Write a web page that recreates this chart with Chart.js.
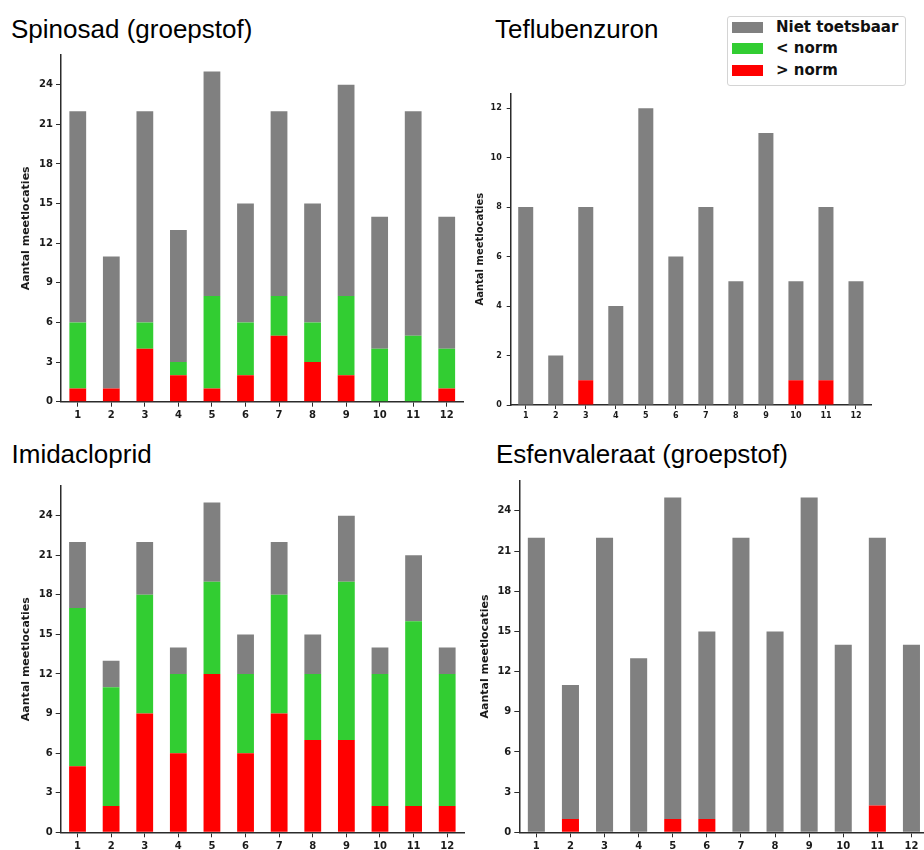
<!DOCTYPE html>
<html>
<head>
<meta charset="utf-8">
<script src="https://cdn.jsdelivr.net/npm/chart.js@4/dist/chart.umd.min.js"></script>
<style>
  html, body { margin: 0; padding: 0; background: #fff; }
  body { width: 924px; height: 850px; position: relative; overflow: hidden; }
  canvas { position: absolute; }
  .title {
    position: absolute; font-family: "Liberation Sans", Arial, sans-serif;
    font-size: 26px; line-height: 26px; color: #000; white-space: nowrap;
  }
  #legend {
    position: absolute; left: 727px; top: 16px; width: 177px; height: 68px;
    border: 1px solid #d4d4d4; border-radius: 3px; background: #fff;
  }
  .item { position: absolute; left: 4px; height: 11px; }
  .swatch { position: absolute; left: 0; top: 0; width: 31px; height: 11px; }
  .lab {
    position: absolute; left: 44px; top: -6px; white-space: nowrap;
    font-family: "DejaVu Sans", sans-serif; font-weight: bold; font-size: 15px;
    line-height: 22px; color: #111;
  }
</style>
</head>
<body>
<div class="title" style="left:11px; top:15.5px;">Spinosad (groepstof)</div>
<div class="title" style="left:495px; top:15.5px;">Teflubenzuron</div>
<div class="title" style="left:11.5px; top:441px;">Imidacloprid</div>
<div class="title" style="left:496px; top:441px;">Esfenvaleraat (groepstof)</div>
<div id="legend"></div>

<canvas id="c1" width="470" height="380" style="left:0px; top:50px;"></canvas>
<canvas id="c2" width="454" height="342" style="left:470px; top:88px;"></canvas>
<canvas id="c3" width="470" height="370" style="left:0px; top:480px;"></canvas>
<canvas id="c4" width="470" height="375" style="left:470px; top:475px;"></canvas>

<script>
// Meetperiodes 1..12
const periods = ['1', '2', '3', '4', '5', '6', '7', '8', '9', '10', '11', '12'];

const seriesNames = ['Niet toetsbaar', '< norm', '> norm'];
const seriesColors = ['#808080', '#32cd32', '#ff0000'];
const yAxisTitle = 'Aantal meetlocaties';

// Spinosad (groepstof)
const spinosadAbove = [1, 1, 4, 2, 1, 2, 5, 3, 2, 0, 0, 1];
const spinosadBelow = [5, 0, 2, 1, 7, 4, 3, 3, 6, 4, 5, 3];
const spinosadNiet  = [16, 10, 16, 10, 17, 9, 14, 9, 16, 10, 17, 10];

// Teflubenzuron
const teflubenzuronAbove = [0, 0, 1, 0, 0, 0, 0, 0, 0, 1, 1, 0];
const teflubenzuronBelow = [0, 0, 0, 0, 0, 0, 0, 0, 0, 0, 0, 0];
const teflubenzuronNiet  = [8, 2, 7, 4, 12, 6, 8, 5, 11, 4, 7, 5];

// Imidacloprid
const imidaclopridAbove = [5, 2, 9, 6, 12, 6, 9, 7, 7, 2, 2, 2];
const imidaclopridBelow = [12, 9, 9, 6, 7, 6, 9, 5, 12, 10, 14, 10];
const imidaclopridNiet  = [5, 2, 4, 2, 6, 3, 4, 3, 5, 2, 5, 2];

// Esfenvaleraat (groepstof)
const esfenvaleraatAbove = [0, 1, 0, 0, 1, 1, 0, 0, 0, 0, 2, 0];
const esfenvaleraatBelow = [0, 0, 0, 0, 0, 0, 0, 0, 0, 0, 0, 0];
const esfenvaleraatNiet  = [22, 10, 22, 13, 24, 14, 22, 15, 25, 14, 20, 14];

// Legend (shared by all four panels)
const legend = document.getElementById('legend');
seriesNames.forEach((name, i) => {
  const item = document.createElement('div');
  item.className = 'item';
  item.style.top = (5 + i * 21.3) + 'px';
  const sw = document.createElement('div');
  sw.className = 'swatch';
  sw.style.background = seriesColors[i];
  const lab = document.createElement('div');
  lab.className = 'lab';
  lab.textContent = name;
  item.appendChild(sw);
  item.appendChild(lab);
  legend.appendChild(item);
});

const axisColor = '#2b2b2b';

function stackedChart(id, above, below, niet, g) {
  const tickFont = { family: 'DejaVu Sans', weight: 'bold', size: g.tickSize };
  return new Chart(document.getElementById(id), {
    type: 'bar',
    data: {
      labels: periods,
      datasets: [
        { label: seriesNames[2], data: above, backgroundColor: seriesColors[2] },
        { label: seriesNames[1], data: below, backgroundColor: seriesColors[1] },
        { label: seriesNames[0], data: niet,  backgroundColor: seriesColors[0] }
      ]
    },
    options: {
      responsive: false,
      animation: false,
      devicePixelRatio: 1,
      barPercentage: 0.5,
      categoryPercentage: 1.0,
      layout: { padding: { top: g.padTop, right: g.padRight, left: 0, bottom: 0 } },
      plugins: { legend: { display: false }, tooltip: { enabled: false } },
      scales: {
        x: {
          stacked: true,
          offset: true,
          grid: { offset: false, drawOnChartArea: false, drawTicks: true,
                  tickLength: g.tickLen, tickColor: axisColor, tickWidth: 1 },
          border: { display: true, color: axisColor, width: 1.5 },
          ticks: { font: tickFont, color: '#1a1a1a', padding: g.xPad, maxRotation: 0 },
          afterFit: s => {
            s.height = g.xHeight;
            s.paddingLeft = 0; s.paddingRight = 0;
          }
        },
        y: {
          stacked: true,
          min: 0,
          max: g.yMax,
          grid: { drawOnChartArea: false, drawTicks: true,
                  tickLength: g.tickLen, tickColor: axisColor, tickWidth: 1 },
          border: { display: true, color: axisColor, width: 1.5 },
          ticks: { stepSize: g.yStep, includeBounds: false, font: tickFont,
                   color: '#1a1a1a', padding: g.yPad },
          title: {
            display: true, text: yAxisTitle, color: '#1a1a1a',
            font: { family: 'DejaVu Sans', weight: 'bold', size: g.titleSize },
            padding: { top: g.titlePad, bottom: 0 }
          },
          afterFit: s => {
            s.width = g.yWidth;
            s.paddingTop = 0; s.paddingBottom = 0;
          }
        }
      }
    }
  });
}

stackedChart('c1', spinosadAbove, spinosadBelow, spinosadNiet, {
  yMax: 26.25, yStep: 3, tickSize: 10, titleSize: 11, titlePad: 20,
  tickLen: 5, xPad: 3, yPad: 3, padTop: 5, padRight: 6.5, yWidth: 61, xHeight: 28.3
});
stackedChart('c2', teflubenzuronAbove, teflubenzuronBelow, teflubenzuronNiet, {
  yMax: 12.6, yStep: 2, tickSize: 8, titleSize: 10, titlePad: 4,
  tickLen: 4, xPad: 2, yPad: 5, padTop: 5.3, padRight: 53, yWidth: 40.7, xHeight: 25
});
stackedChart('c3', imidaclopridAbove, imidaclopridBelow, imidaclopridNiet, {
  yMax: 26.25, yStep: 3, tickSize: 10, titleSize: 11, titlePad: 20,
  tickLen: 5, xPad: 3, yPad: 3, padTop: 6, padRight: 6, yWidth: 60.7, xHeight: 17.7
});
stackedChart('c4', esfenvaleraatAbove, esfenvaleraatBelow, esfenvaleraatNiet, {
  yMax: 26.25, yStep: 3, tickSize: 10, titleSize: 11, titlePad: 8.4,
  tickLen: 5, xPad: 3, yPad: 3, padTop: 5.7, padRight: 11.5, yWidth: 49.3, xHeight: 17.7
});
</script>
</body>
</html>
